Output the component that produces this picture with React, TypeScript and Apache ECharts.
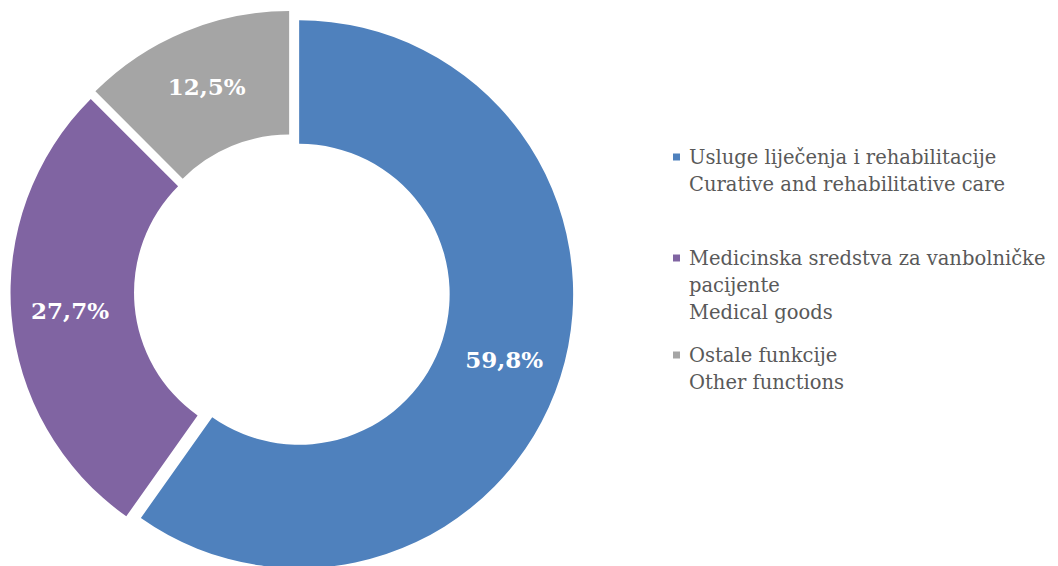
import React, { useEffect, useRef } from "react";
import * as echarts from "echarts";

const namesLocal = [
  "Usluge liječenja i rehabilitacije",
  "Medicinska sredstva za vanbolničke\npacijente",
  "Ostale funkcije",
];
const namesEnglish = [
  "Curative and rehabilitative care",
  "Medical goods",
  "Other functions",
];
const shares = [59.8, 27.7, 12.5];
const colors = ["#4F81BD", "#8064A2", "#A5A5A5"];
const legendTops = [116.5, 190.5, 314.5];

const FONT = "'DejaVu Serif', 'Liberation Serif', serif";
const LINE_H = 27;
const CX = 292;
const CY = 292;
const EXPLODE = 7.5;

export default function App() {
  const ref = useRef<HTMLDivElement>(null);
  useEffect(() => {
    document.body.style.margin = "0";
    if (!ref.current) return;
    const chart = echarts.init(ref.current, undefined, { renderer: "svg" });
    const names = namesLocal.map((n, i) => n + "\n" + namesEnglish[i]);
    const total = shares.reduce((a, b) => a + b, 0);
    let cum = 0;
    const mids = shares.map((v) => {
      const m = ((cum + v / 2) / total) * Math.PI * 2;
      cum += v;
      return m;
    });
    const labelStyle = {
      show: true,
      position: "inside" as const,
      formatter: (p: any) => p.value.toFixed(1).replace(".", ",") + "%",
      color: "#ffffff",
      fontFamily: FONT,
      fontWeight: "bold" as const,
      fontSize: 23,
    };
    const series = shares.map((_, k) => ({
      type: "pie",
      center: [CX + EXPLODE * Math.sin(mids[k]), CY - EXPLODE * Math.cos(mids[k])],
      radius: [150.5, 274],
      startAngle: 90,
      clockwise: true,
      avoidLabelOverlap: false,
      silent: true,
      label: labelStyle,
      labelLine: { show: false },
      emphasis: { disabled: true },
      data: names.map((name, i) => ({
        name,
        value: shares[i],
        itemStyle: { color: i === k ? colors[i] : "rgba(0,0,0,0)" },
        label: { show: i === k },
      })),
    }));
    const legends = names.map((name, i) => {
      const nLines = name.split("\n").length;
      return {
        data: [{ name, itemStyle: { color: colors[i] } }],
        left: 673,
        top: legendTops[i],
        orient: "vertical" as const,
        padding: 0,
        icon: "rect",
        itemWidth: 7,
        itemHeight: 7,
        selectedMode: false,
        itemStyle: { color: colors[i] },
        formatter: (n: string) => "\n".repeat(nLines - 1) + n,
        textStyle: {
          color: "#595959",
          fontFamily: FONT,
          fontSize: 19.5,
          lineHeight: LINE_H,
          padding: [0, 0, 0, 4],
        },
      };
    });
    chart.setOption({
      animation: false,
      legend: legends,
      series,
    });
    return () => chart.dispose();
  }, []);
  return <div ref={ref} style={{ width: 1058, height: 566 }} />;
}
